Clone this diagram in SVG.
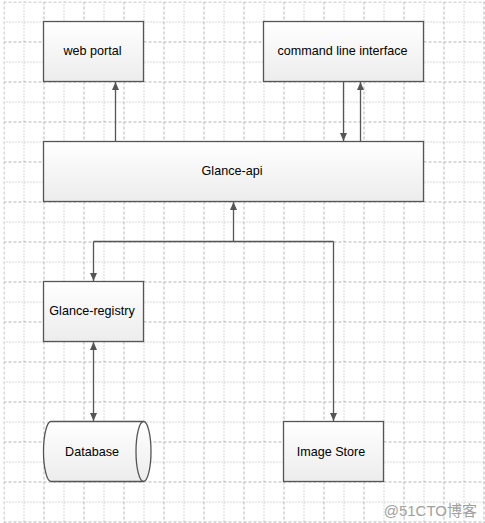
<svg xmlns="http://www.w3.org/2000/svg" width="485" height="523" viewBox="0 0 485 523">
<defs>
<linearGradient id="g" x1="0" y1="0" x2="0" y2="1">
<stop offset="0" stop-color="#ffffff"/>
<stop offset="1" stop-color="#ececec"/>
</linearGradient>
<pattern id="grid" x="3.5" y="1.5" width="40" height="40" patternUnits="userSpaceOnUse">
<path d="M0.5,0 V40 M0,0.5 H40" fill="none" stroke="#b4b4b4" stroke-width="1" stroke-dasharray="3,2"/>
<path d="M20.5,0 V40 M0,20.5 H40" fill="none" stroke="#b4b4b4" stroke-width="1" stroke-dasharray="1,2"/>
</pattern>
<marker id="ah" viewBox="0 0 8 8" refX="8" refY="4" markerWidth="8" markerHeight="8" orient="auto" markerUnits="userSpaceOnUse">
<path d="M0,0.5 L8,4 L0,7.5 Z" fill="#555"/>
</marker>
<marker id="as" viewBox="0 0 8 8" refX="0" refY="4" markerWidth="8" markerHeight="8" orient="auto" markerUnits="userSpaceOnUse">
<path d="M8,0.5 L0,4 L8,7.5 Z" fill="#555"/>
</marker>
</defs>
<style>
.box{fill:url(#g);stroke:#555;stroke-width:1.3}
.lbl{font-family:"Liberation Sans",Arial,sans-serif;font-size:12.6px;fill:#000;text-anchor:middle}
.c{fill:none;stroke:#555;stroke-width:1.3}
</style>
<rect width="485" height="523" fill="#fff"/>
<rect x="-36.5" y="-38.5" width="560" height="600" fill="url(#grid)" transform="translate(40,40)"/>
<g id="connectors">
<path class="c" d="M115.5,141.5 V82" marker-end="url(#ah)"/>
<path class="c" d="M343.5,81.5 V141" marker-end="url(#ah)"/>
<path class="c" d="M360.5,141.5 V82" marker-end="url(#ah)"/>
<path class="c" d="M233.5,241.5 V202" marker-end="url(#ah)"/>
<path class="c" d="M93.5,241.5 H333.5"/>
<path class="c" d="M93.5,241.5 V281" marker-end="url(#ah)"/>
<path class="c" d="M333.5,241.5 V421" marker-end="url(#ah)"/>
<path class="c" d="M93.5,342 V421" marker-start="url(#as)" marker-end="url(#ah)"/>
</g>
<g id="web-portal">
<rect class="box" x="43.5" y="21.5" width="100" height="60"/>
<text class="lbl" x="92.5" y="55">web portal</text>
</g>
<g id="cli">
<rect class="box" x="263.5" y="21.5" width="160" height="60"/>
<text class="lbl" x="342.5" y="55">command line interface</text>
</g>
<g id="glance-api">
<rect class="box" x="43.5" y="141.5" width="380" height="60"/>
<text class="lbl" x="232" y="175">Glance-api</text>
</g>
<g id="glance-registry">
<rect class="box" x="43.5" y="281.5" width="100" height="60"/>
<text class="lbl" x="92" y="315">Glance-registry</text>
</g>
<g id="database">
<path class="box" d="M51,421.5 L143.5,421.5 A7.5,30 0 0 1 143.5,481.5 L51,481.5 A7.5,30 0 0 1 51,421.5 Z"/>
<path class="c" d="M143.5,421.5 A7.5,30 0 0 0 143.5,481.5"/>
<text class="lbl" x="92" y="456">Database</text>
</g>
<g id="image-store">
<rect class="box" x="283.5" y="421.5" width="100" height="60"/>
<text class="lbl" x="331" y="456">Image Store</text>
</g>
<text x="477" y="516" font-family="'Liberation Sans','Noto Sans CJK SC',sans-serif" font-size="15" fill="#a0a0a0" text-anchor="end">@51CTO博客</text>
</svg>
